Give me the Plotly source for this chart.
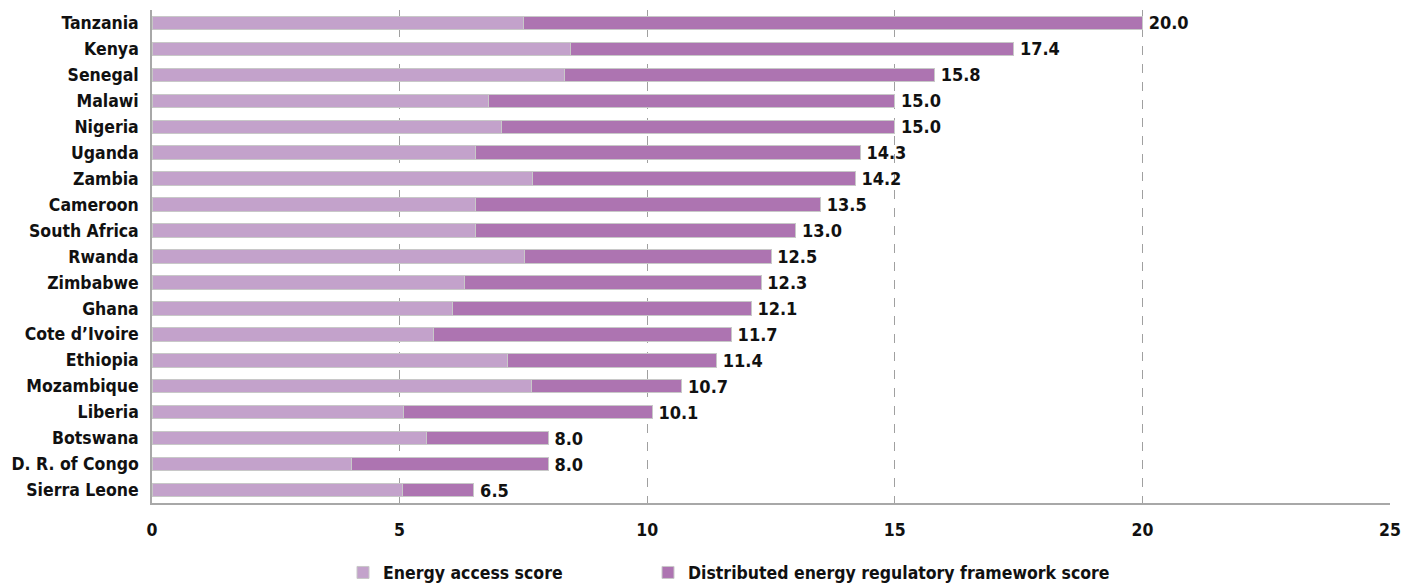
import plotly.graph_objects as go

countries = ["Tanzania", "Kenya", "Senegal", "Malawi", "Nigeria", "Uganda", "Zambia",
             "Cameroon", "South Africa", "Rwanda", "Zimbabwe", "Ghana", "Cote d’Ivoire",
             "Ethiopia", "Mozambique", "Liberia", "Botswana", "D. R. of Congo", "Sierra Leone"]
energy_access = [7.5, 8.45, 8.33, 6.8, 7.05, 6.54, 7.68,
                 6.54, 6.54, 7.52, 6.32, 6.06, 5.68,
                 7.18, 7.67, 5.07, 5.55, 4.03, 5.05]
total_score = [20.0, 17.4, 15.8, 15.0, 15.0, 14.3, 14.2,
               13.5, 13.0, 12.5, 12.3, 12.1, 11.7,
               11.4, 10.7, 10.1, 8.0, 8.0, 6.5]
framework_score = [round(t - a, 3) for t, a in zip(total_score, energy_access)]
x_ticks = [0, 5, 10, 15, 20, 25]

FONT = "DejaVu Sans Condensed, DejaVu Sans, sans-serif"
LIGHT = "#C3A2CB"
DARK = "#AD74B1"
EDGE = "#C8C8C8"
FS = 17.5

fig = go.Figure()
fig.add_trace(go.Bar(
    y=countries, x=energy_access, orientation="h", name="Energy access score",
    marker=dict(color=LIGHT, line=dict(color=EDGE, width=1)),
    legend="legend",
))
fig.add_trace(go.Bar(
    y=countries, x=framework_score, orientation="h",
    name="Distributed energy regulatory framework score",
    marker=dict(color=DARK, line=dict(color=EDGE, width=1)),
    text=["\u2009" + f"{t:.1f}" for t in total_score], textposition="outside",
    constraintext="none",
    textfont=dict(family=FONT, size=18, color="#111111", weight="bold"),
    cliponaxis=False,
    legend="legend2",
))

legend_common = dict(orientation="h", yref="container", y=0.052, yanchor="top",
                     xref="container", xanchor="left",
                     font=dict(family=FONT, size=FS, weight="bold"))

fig.update_layout(
    barmode="stack", bargap=0.48,
    width=1411, height=585,
    margin=dict(l=152, r=13, t=10, b=82),
    plot_bgcolor="white", paper_bgcolor="white",
    font=dict(family=FONT, size=FS, color="#111111", weight="bold"),
    showlegend=True,
    legend=dict(x=343 / 1411, **legend_common),
    legend2=dict(x=648 / 1411, **legend_common),
)
fig.update_xaxes(
    range=[0, 25], tickvals=x_ticks, ticktext=[str(v) for v in x_ticks],
    showgrid=True, gridcolor="#A0A0A0", griddash="dash", gridwidth=1,
    zeroline=False, showline=True, linecolor="#A8A8A8", linewidth=1.5,
    ticks="outside", ticklen=10, tickcolor="rgba(0,0,0,0)",
    tickfont=dict(family=FONT, size=FS, weight="bold"),
)
fig.update_yaxes(
    categoryorder="array", categoryarray=countries[::-1],
    showgrid=False, zeroline=False, showline=True, linecolor="#A8A8A8", linewidth=1.5,
    ticks="outside", ticklen=8, tickcolor="rgba(0,0,0,0)",
    tickfont=dict(family=FONT, size=FS, weight="bold"),
)

fig.write_html("out.html")
